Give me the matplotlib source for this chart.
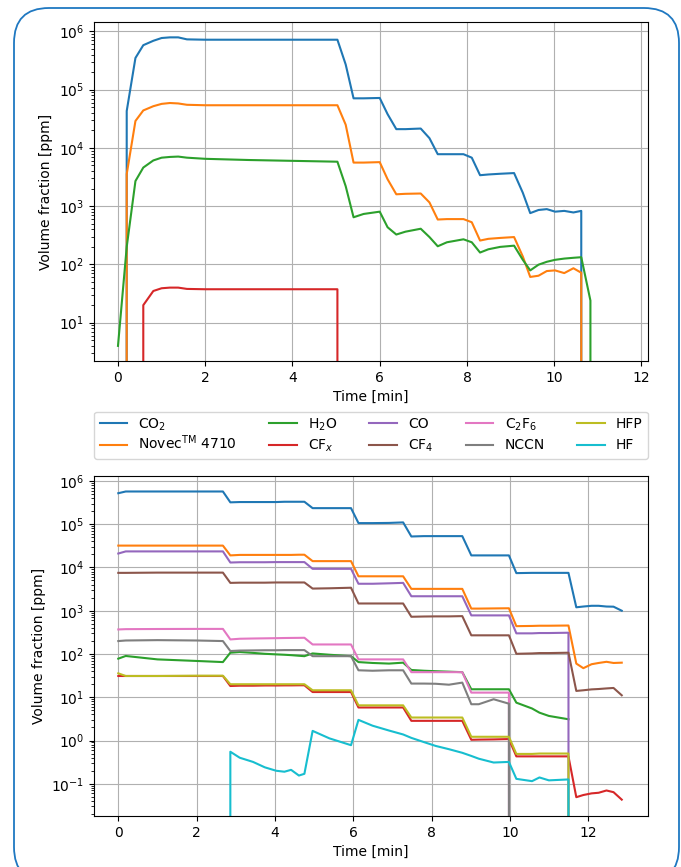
import numpy as np
import matplotlib
matplotlib.use("Agg")
import matplotlib.pyplot as plt
from matplotlib.patches import FancyBboxPatch
from matplotlib.offsetbox import TextArea
from matplotlib.transforms import Bbox

# ---- top panel: first test ----
t_top = [0, 0.2, 0.4, 0.58, 0.81, 1.0, 1.19, 1.38, 1.58, 2.0, 3.0, 4.0,
         5.03, 5.22, 5.40, 5.63, 6.0, 6.18, 6.38, 6.59, 6.94, 7.14, 7.33, 7.54,
         7.92, 8.11, 8.30, 8.49, 8.76, 9.08, 9.28, 9.45, 9.64, 9.83, 10.02, 10.23,
         10.44, 10.62, 10.83, 11.02]
co2_top = [0, 4.3e4, 3.5e5, 5.8e5, 6.9e5, 7.7e5, 7.9e5, 7.9e5, 7.3e5, 7.2e5, 7.2e5, 7.2e5,
           7.2e5, 2.7e5, 7.1e4, 7.1e4, 7.2e4, 3.8e4, 2.1e4, 2.1e4, 2.15e4, 1.47e4, 7.8e3, 7.8e3,
           7.8e3, 6.8e3, 3.4e3, 3.5e3, 3.6e3, 3.7e3, 1.7e3, 760, 860, 890, 805, 830,
           780, 830, 0, 0]
novec_top = [0, 3.55e3, 2.9e4, 4.4e4, 5.2e4, 5.7e4, 5.9e4, 5.8e4, 5.5e4, 5.4e4, 5.4e4, 5.4e4,
             5.4e4, 2.5e4, 5.6e3, 5.6e3, 5.7e3, 2.9e3, 1.6e3, 1.63e3, 1.65e3, 1.16e3, 590, 600,
             600, 530, 257, 275, 285, 295, 137, 61, 64, 77, 79, 71,
             86, 72, 0, 0]
h2o_top = [4.0, 200, 2.7e3, 4.6e3, 6.1e3, 6.8e3, 7.0e3, 7.1e3, 6.8e3, 6.5e3, 6.2e3, 6.0e3,
           5.8e3, 2.2e3, 645, 735, 805, 435, 326, 365, 410, 295, 205, 240,
           270, 240, 160, 182, 200, 210, 120, 79, 99, 111, 120, 126,
           130, 133, 24, 0]
cfx_top = [0, 0, 0, 20, 35, 39, 40, 40, 38, 37.5, 37.5, 37.5,
           37.5, 0, 0, 0, 0, 0, 0, 0, 0, 0, 0, 0,
           0, 0, 0, 0, 0, 0, 0, 0, 0, 0, 0, 0,
           0, 0, 0, 0]

# ---- bottom panel: second test ----
t_bot = [0, 0.19, 1.0, 2.0, 2.67, 2.86, 3.1, 3.44, 3.74, 4.03,
         4.24, 4.41, 4.61, 4.75, 4.96, 5.39, 5.94, 6.13, 6.49, 6.91,
         7.27, 7.48, 7.8, 8.1, 8.44, 8.78, 9.01, 9.2, 9.58, 9.97,
         10.16, 10.56, 10.75, 10.99, 11.49, 11.69, 11.87, 12.08, 12.26, 12.46,
         12.64, 12.85]
co2_bot = [5.2e5, 5.7e5, 5.7e5, 5.7e5, 5.7e5, 3.2e5, 3.25e5, 3.25e5, 3.25e5, 3.25e5,
           3.3e5, 3.3e5, 3.3e5, 3.3e5, 2.35e5, 2.35e5, 2.35e5, 1.06e5, 1.06e5, 1.07e5,
           1.1e5, 5.2e4, 5.3e4, 5.3e4, 5.3e4, 5.3e4, 1.9e4, 1.9e4, 1.9e4, 1.9e4,
           7.4e3, 7.5e3, 7.5e3, 7.5e3, 7.5e3, 1.2e3, 1.25e3, 1.3e3, 1.3e3, 1.25e3,
           1.24e3, 1.0e3]
novec_bot = [3.2e4, 3.2e4, 3.2e4, 3.2e4, 3.2e4, 1.9e4, 1.95e4, 1.95e4, 1.95e4, 1.95e4,
             1.95e4, 1.95e4, 1.97e4, 1.97e4, 1.4e4, 1.4e4, 1.4e4, 6.25e3, 6.25e3, 6.25e3,
             6.25e3, 3.2e3, 3.2e3, 3.2e3, 3.2e3, 3.2e3, 1.12e3, 1.12e3, 1.13e3, 1.14e3,
             440, 445, 450, 450, 455, 60, 47, 58, 62, 66,
             62, 63]
h2o_bot = [78, 90, 75, 69, 65, 107, 111, 106, 101, 98,
           96, 94, 91, 89, 103, 96, 89, 65, 62, 60,
           63, 42.7, 41, 40, 39, 38, 15.3, 15.3, 15.3, 15.3,
           7.5, 5.5, 4.4, 3.7, 3.1, np.nan, np.nan, np.nan, np.nan, np.nan,
           np.nan, np.nan]
cfx_bot = [31, 31, 31, 31, 31, 18.2, 18.5, 18.5, 18.7, 18.7,
           18.8, 18.8, 18.9, 18.9, 13.2, 13.2, 13.2, 5.8, 5.8, 5.8,
           5.8, 2.85, 2.85, 2.85, 2.85, 2.85, 1.04, 1.05, 1.06, 1.08,
           0.43, 0.43, 0.43, 0.43, 0.43, 0.049, 0.055, 0.06, 0.062, 0.07,
           0.064, 0.043]
co_bot = [2.1e4, 2.35e4, 2.35e4, 2.35e4, 2.35e4, 1.3e4, 1.32e4, 1.32e4, 1.32e4, 1.33e4,
          1.33e4, 1.33e4, 1.33e4, 1.33e4, 9.3e3, 9.3e3, 9.3e3, 4.2e3, 4.2e3, 4.3e3,
          4.4e3, 2.16e3, 2.16e3, 2.16e3, 2.16e3, 2.16e3, 780, 780, 780, 780,
          300, 300, 305, 305, 310, 0, 0, 0, 0, 0,
          0, 0]
cf4_bot = [7.5e3, 7.5e3, 7.6e3, 7.6e3, 7.6e3, 4.4e3, 4.45e3, 4.45e3, 4.45e3, 4.5e3,
           4.5e3, 4.5e3, 4.5e3, 4.5e3, 3.25e3, 3.3e3, 3.4e3, 1.47e3, 1.47e3, 1.47e3,
           1.47e3, 725, 735, 740, 740, 750, 270, 270, 270, 270,
           101, 103, 105, 105, 107, 14, 14.5, 15.2, 15.5, 16,
           16.4, 11.1]
c2f6_bot = [369, 375, 378, 380, 380, 217, 225, 228, 230, 232,
            234, 235, 236, 237, 166, 166, 166, 75, 75, 75,
            75, 38, 38, 38, 38, 38, 12.8, 12.8, 12.8, 12.8,
            0, 0, 0, 0, 0, 0, 0, 0, 0, 0,
            0, 0]
nccn_bot = [199, 205, 209, 205, 199, 117, 120, 121, 122, 122,
            123, 123, 123, 123, 89, 89, 89, 42, 41, 42,
            42, 20.7, 20.7, 20.5, 19.5, 21.8, 6.9, 6.9, 9.0, 7.1,
            0, 0, 0, 0, 0, 0, 0, 0, 0, 0,
            0, 0]
hfp_bot = [35.7, 31, 31, 31.5, 31.5, 20, 20, 20, 20, 20,
           20, 20, 20, 20, 14.5, 14.5, 14.5, 6.5, 6.5, 6.5,
           6.5, 3.4, 3.4, 3.4, 3.4, 3.4, 1.22, 1.22, 1.22, 1.22,
           0.49, 0.49, 0.5, 0.5, 0.5, 0, 0, 0, 0, 0,
           0, 0]
hf_bot = [0, 0, 0, 0, 0, 0.55, 0.4, 0.32, 0.24, 0.2,
          0.19, 0.21, 0.155, 0.17, 1.67, 1.12, 0.78, 3.0, 2.2, 1.7,
          1.38, 1.15, 0.92, 0.75, 0.63, 0.52, 0.44, 0.38, 0.31, 0.32,
          0.13, 0.115, 0.14, 0.12, 0.126, 0, 0, 0, 0, 0,
          0, 0]

labels = ["CO$_2$", "Novec$^{\\mathrm{TM}}$ 4710", "H$_2$O", "CF$_x$", "CO",
          "CF$_4$", "C$_2$F$_6$", "NCCN", "HFP", "HF"]
colors = ["tab:blue", "tab:orange", "tab:green", "tab:red", "tab:purple",
          "tab:brown", "tab:pink", "tab:gray", "tab:olive", "tab:cyan"]
yticks_top = [1e1, 1e2, 1e3, 1e4, 1e5, 1e6]
yticks_bot = [1e-1, 1e0, 1e1, 1e2, 1e3, 1e4, 1e5, 1e6]

# legend rows: give every label the same height so sub/superscripts
# don't shift the rows against each other
_orig_bbox = TextArea.get_bbox
def _even_bbox(self, renderer):
    bb = _orig_bbox(self, renderer)
    return Bbox.from_bounds(bb.x0, -4.0, bb.width, 15.0)
TextArea.get_bbox = _even_bbox

fig = plt.figure(figsize=(6.81, 8.67), dpi=100)
ax1 = fig.add_axes([94/681, 1-361/867, 554/681, 339/867])
ax2 = fig.add_axes([94/681, 1-816/867, 554/681, 340/867])

for y, c in zip([co2_top, novec_top, h2o_top, cfx_top], colors[:4]):
    ax1.plot(t_top, y, color=c, lw=1.5)

bot_series = [co2_bot, novec_bot, h2o_bot, cfx_bot, co_bot, cf4_bot,
              c2f6_bot, nccn_bot, hfp_bot, hf_bot]
handles = []
for y, c, lab in zip(bot_series, colors, labels):
    h, = ax2.plot(t_bot, y, color=c, lw=1.5, label=lab)
    handles.append(h)

ax1.set_yscale("log")
ax1.set_yticks(yticks_top)
ax1.set_xlim(-0.55, 12.15)
ax1.set_ylim(2.2, 1.45e6)
ax2.set_yscale("log")
ax2.set_yticks(yticks_bot)
ax2.set_xlim(-0.62, 13.52)
ax2.set_ylim(0.018, 1.3e6)

for ax in (ax1, ax2):
    ax.grid(True)
    ax.set_xlabel("Time [min]")
    ax.set_ylabel("Volume fraction [ppm]")

fig.legend(handles=handles, ncol=5, mode="expand", loc="lower left",
           bbox_to_anchor=(94/681, 1-459/867, 554/681, 47/867), borderaxespad=0,
           labelspacing=0.45)

box = FancyBboxPatch((0.14, -0.15), 6.65, 8.74,
                     boxstyle="round,pad=0,rounding_size=0.35",
                     transform=fig.dpi_scale_trans, fill=False,
                     edgecolor="#1f78c1", lw=1.3)
fig.patches.append(box)

fig.savefig("out.png", dpi=100)
